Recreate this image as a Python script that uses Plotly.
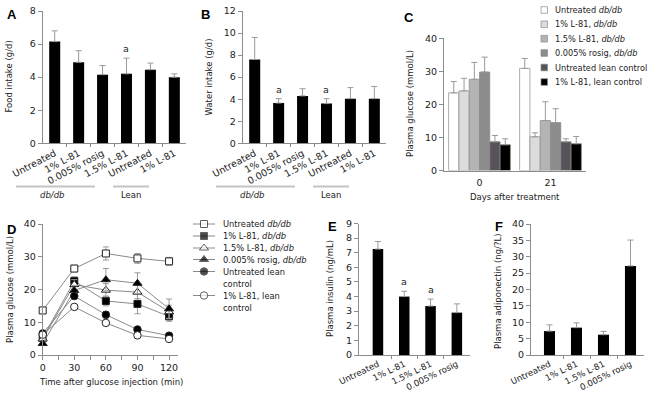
import plotly.graph_objects as go

W, H = 653, 395
FONT = "DejaVu Sans"
TXT = "#222222"
AXC = "#8c8c8c"
ERRC = "#9a9a9a"

# ---------------- data ----------------
# Panel A - food intake
a_labels = ["Untreated", "1% L-81", "0.005% rosig", "1.5% L-81", "Untreated", "1% L-81"]
a_food = [6.15, 4.9, 4.15, 4.2, 4.45, 4.0]
a_food_err = [0.65, 0.7, 0.55, 0.95, 0.4, 0.2]
a_sig = [False, False, False, True, False, False]

# Panel B - water intake
b_water = [7.6, 3.65, 4.3, 3.6, 4.05, 4.05]
b_water_err = [2.0, 0.4, 0.65, 0.45, 1.0, 1.1]
b_sig = [False, True, False, True, False, False]

# Panel C - plasma glucose by day
c_days = ["0", "21"]
c_groups = ["Untreated <i>db/db</i>", "1% L-81, <i>db/db</i>", "1.5% L-81, <i>db/db</i>",
            "0.005% rosig, <i>db/db</i>", "Untreated lean control", "1% L-81, lean control"]
c_glucose = [[23.5, 30.9], [24.1, 10.2], [27.6, 15.1], [29.8, 14.5], [8.7, 8.7], [7.8, 8.1]]
c_err = [[3.4, 3.0], [3.8, 1.2], [5.1, 5.7], [4.5, 4.2], [1.9, 0.9], [1.8, 2.2]]
c_colors = ["#ffffff", "#dcdcdc", "#b4b4b4", "#8c8c8c", "#58535a", "#000000"]

# Panel D - glucose tolerance
d_time = [0, 30, 60, 90, 120]
d_names = ["Untreated <i>db/db</i>", "1% L-81, <i>db/db</i>", "1.5% L-81, <i>db/db</i>",
           "0.005% rosig, <i>db/db</i>", "Untreated lean<br>control", "1% L-81, lean<br>control"]
d_glucose = [
    [13.6, 26.4, 31.0, 29.5, 28.6],
    [5.2, 22.6, 16.5, 15.6, 11.8],
    [4.9, 21.5, 19.8, 19.2, 13.2],
    [3.5, 19.7, 23.0, 21.9, 14.1],
    [6.6, 18.0, 12.3, 7.8, 5.9],
    [6.2, 14.7, 9.8, 6.0, 4.9],
]
d_err = [
    [0.8, 1.0, 2.0, 1.5, 1.2],
    [0.6, 1.3, 1.5, 3.0, 1.5],
    [0.5, 1.5, 2.0, 2.0, 2.0],
    [0.5, 1.5, 3.4, 3.2, 3.0],
    [0.5, 1.0, 1.0, 0.5, 0.5],
    [0.5, 0.6, 0.5, 0.4, 0.4],
]
d_symbols = ["square", "square", "triangle-up", "triangle-up", "circle", "circle"]
d_fill = ["white", "black", "white", "black", "black", "white"]
d_sizes = [7, 7, 8, 8, 7.5, 7.5]

# Panel E - insulin
e_labels = ["Untreated", "1% L-81", "1.5% L-81", "0.005% rosig"]
e_insulin = [7.25, 4.0, 3.35, 2.9]
e_err = [0.52, 0.36, 0.48, 0.6]
e_sig = [False, True, True, False]

# Panel F - adiponectin
f_adipo = [7.3, 8.35, 6.2, 27.2]
f_err = [1.9, 1.45, 1.0, 7.9]


def dom_x(l, r):
    return [l / W, r / W]


def dom_y(t, b):
    return [1 - b / H, 1 - t / H]


tickfont = dict(family=FONT, size=9.5, color=TXT)
base_ax = dict(showline=True, linecolor=AXC, linewidth=1, showgrid=False, zeroline=False,
               tickfont=tickfont, ticks="outside", ticklen=4, tickcolor=AXC, tickwidth=1,
               fixedrange=True, automargin=False)


def cat_axis(labels, dom, rng, anchor, fsize=9.5, angle=-28):
    n = len(labels)
    return dict(base_ax, domain=dom, range=rng, anchor=anchor, tickmode="array",
                tickvals=list(range(n)), ticktext=labels, ticks="", tickangle=angle,
                tickfont=dict(family=FONT, size=fsize, color=TXT),
                minor=dict(ticks="outside", ticklen=3, tickcolor=AXC,
                           tickvals=[i + 0.5 for i in range(n - 1)]))


def val_axis(dom, rng, dtick, anchor):
    return dict(base_ax, domain=dom, range=rng, dtick=dtick, anchor=anchor)


fig = go.Figure()

# ---- A ----
fig.add_trace(go.Bar(x=list(range(len(a_food))), y=a_food, width=0.46, marker_color="black",
                     error_y=dict(type="data", symmetric=False, array=a_food_err,
                                  arrayminus=[0] * len(a_food), color=ERRC, thickness=1, width=3),
                     xaxis="x", yaxis="y", showlegend=False))
# ---- B ----
fig.add_trace(go.Bar(x=list(range(len(b_water))), y=b_water, width=0.46, marker_color="black",
                     error_y=dict(type="data", symmetric=False, array=b_water_err,
                                  arrayminus=[0] * len(b_water), color=ERRC, thickness=1, width=3),
                     xaxis="x2", yaxis="y2", showlegend=False))
# ---- C ----
for name, vals, errs, col in zip(c_groups, c_glucose, c_err, c_colors):
    fig.add_trace(go.Bar(x=c_days, y=vals, name=name,
                         marker=dict(color=col, line=dict(color="#8a8a8a", width=0.7)),
                         error_y=dict(type="data", symmetric=False, array=errs, arrayminus=[0, 0],
                                      color=ERRC, thickness=1, width=3),
                         xaxis="x3", yaxis="y3", showlegend=False))
# ---- D ----
for name, vals, errs, sym, fill, sz in zip(d_names, d_glucose, d_err, d_symbols, d_fill, d_sizes):
    fig.add_trace(go.Scatter(x=d_time, y=vals, mode="lines+markers", name=name,
                             line=dict(color="#8a8a8a", width=1),
                             marker=dict(symbol=sym, size=sz, color=fill, line=dict(color="#222", width=1)),
                             error_y=dict(type="data", array=errs, color=ERRC, thickness=1, width=3),
                             cliponaxis=False, xaxis="x4", yaxis="y4", showlegend=False))
# ---- E ----
fig.add_trace(go.Bar(x=list(range(len(e_insulin))), y=e_insulin, width=0.4, marker_color="black",
                     error_y=dict(type="data", symmetric=False, array=e_err,
                                  arrayminus=[0] * len(e_insulin), color=ERRC, thickness=1, width=3),
                     xaxis="x5", yaxis="y5", showlegend=False))
# ---- F ----
fig.add_trace(go.Bar(x=list(range(len(f_adipo))), y=f_adipo, width=0.41, marker_color="black",
                     error_y=dict(type="data", symmetric=False, array=f_err,
                                  arrayminus=[0] * len(f_adipo), color=ERRC, thickness=1, width=3),
                     xaxis="x6", yaxis="y6", showlegend=False))

# ---- legend glyphs for D (helper pixel axis) ----
d_leg_y = [224, 236, 248, 259.5, 271.5, 295.5]
fig.add_trace(go.Scatter(x=[204] * len(d_leg_y), y=d_leg_y, mode="markers",
                         marker=dict(symbol=d_symbols, size=d_sizes, color=d_fill,
                                     line=dict(color="#222", width=1)),
                         cliponaxis=False, xaxis="x7", yaxis="y7", showlegend=False, hoverinfo="skip"))

layout = dict(
    template="none",
    width=W, height=H, margin=dict(l=0, r=0, t=0, b=0, pad=0, autoexpand=False),
    paper_bgcolor="white", plot_bgcolor="rgba(0,0,0,0)",
    font=dict(family=FONT, size=9, color=TXT),
    barmode="group", bargap=0.13, bargroupgap=0,
    xaxis=cat_axis(a_labels, dom_x(42.75, 186.3), [-0.5, 5.5], "y"),
    yaxis=val_axis(dom_y(11, 143.3), [0, 8], 2, "x"),
    xaxis2=cat_axis(a_labels, dom_x(242.75, 386.3), [-0.5, 5.5], "y2"),
    yaxis2=val_axis(dom_y(11, 143.3), [0, 12], 2, "x2"),
    xaxis3=dict(base_ax, domain=dom_x(444, 586), type="category", ticks="", ticklabelstandoff=3,
                anchor="y3"),
    yaxis3=val_axis(dom_y(38.3, 170.5), [0, 40], 10, "x3"),
    xaxis4=dict(base_ax, domain=dom_x(42.7, 178), range=[0, 128.5], tickvals=d_time, anchor="y4",
                minor=dict(ticks="outside", ticklen=4, tickcolor=AXC, dtick=15, tick0=0)),
    yaxis4=val_axis(dom_y(224, 355), [0, 40], 10, "x4"),
    xaxis5=cat_axis(e_labels, dom_x(359, 470), [-0.72, 3.5], "y5", fsize=8.6, angle=-26),
    yaxis5=val_axis(dom_y(223.5, 355), [0, 9], 1, "x5"),
    xaxis6=cat_axis(e_labels, dom_x(531, 644), [-0.685, 3.5], "y6", fsize=8.6, angle=-26),
    yaxis6=val_axis(dom_y(224, 355), [0, 40], 5, "x6"),
    xaxis7=dict(domain=[0, 1], range=[0, W], visible=False, fixedrange=True, anchor="y7",
                automargin=False),
    yaxis7=dict(domain=[0, 1], range=[H, 0], visible=False, fixedrange=True, anchor="x7",
                automargin=False),
)
fig.update_layout(**layout)

ann = []
shapes = []


def px_text(x, y, text, size=8.5, xanchor="center", yanchor="middle", angle=0, bold=False, fam=FONT):
    ann.append(dict(x=x, y=y, xref="x7", yref="y7", text=text, showarrow=False,
                    xanchor=xanchor, yanchor=yanchor, textangle=angle,
                    font=dict(family=fam, size=size, color="black" if bold else TXT)))


# panel letters
for letter, (lx, ly) in zip("ABCDEF", [(12, 14), (205, 14), (409, 17), (11, 229), (332, 226), (499, 226)]):
    px_text(lx, ly, "<b>%s</b>" % letter, size=13, bold=True, fam="Liberation Sans")

# axis titles
px_text(8.5, 77, "Food intake (g/d)", angle=-90)
px_text(208.5, 77, "Water intake (g/d)", angle=-90)
px_text(410, 104, "Plasma glucose (mmol/L)", angle=-90)
px_text(515, 197, "Days after treatment")
px_text(10, 290, "Plasma glucose (mmol/L)", angle=-90)
px_text(111, 382, "Time after glucose injection (min)")
px_text(330, 289, "Plasma insulin (ng/mL)", angle=-90)
px_text(498, 292, "Plasma adiponectin (ng/?L)", angle=-90)

# group bars under A and B
for off in (0, 200):
    shapes.append(dict(type="line", xref="x7", yref="y7", x0=16 + off, x1=95 + off, y0=186.5, y1=186.5,
                       line=dict(color="#c4c4c4", width=2)))
    shapes.append(dict(type="line", xref="x7", yref="y7", x0=113 + off, x1=149 + off, y0=186.5, y1=186.5,
                       line=dict(color="#c4c4c4", width=2)))
    px_text(52 + off, 195, "<i>db/db</i>")
    px_text(131 + off, 195, "Lean")

# significance marks
for xr, yr, vals, errs, sig in [("x", "y", a_food, a_food_err, a_sig),
                               ("x2", "y2", b_water, b_water_err, b_sig),
                               ("x5", "y5", e_insulin, e_err, e_sig)]:
    for i, s in enumerate(sig):
        if s:
            ann.append(dict(x=i, y=vals[i] + errs[i], xref=xr, yref=yr, text="a", showarrow=False,
                            yanchor="bottom", yshift=2, font=dict(family=FONT, size=9.5, color=TXT)))

# legend for C
c_leg_y = [10, 24.3, 38.7, 53, 67.5, 82]
for name, col, ly in zip(c_groups, c_colors, c_leg_y):
    shapes.append(dict(type="rect", xref="x7", yref="y7", x0=541, x1=547.5, y0=ly - 3.3, y1=ly + 3.3,
                       fillcolor=col, line=dict(color="#8a8a8a", width=0.7)))
    px_text(553, ly, name, size=8.2, xanchor="left")

# legend for D
for name, ly in zip(d_names, d_leg_y):
    shapes.append(dict(type="line", xref="x7", yref="y7", x0=193, x1=215, y0=ly, y1=ly,
                       line=dict(color="#8a8a8a", width=1), layer="below"))
    for k, part in enumerate(name.split("<br>")):
        px_text(221, ly + 12 * k, part, size=8.3, xanchor="left")

fig.update_layout(annotations=ann, shapes=shapes)
fig.write_html("out.html", config={"displayModeBar": False},
               post_script="document.body.style.margin='0px';document.body.style.overflow='hidden';")
